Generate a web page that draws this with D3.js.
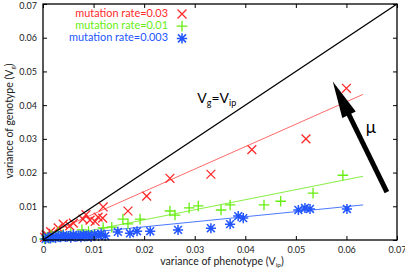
<!DOCTYPE html>
<html><head><meta charset="utf-8">
<script src="https://cdn.jsdelivr.net/npm/d3@7"></script>
<style>body{margin:0;background:#fff}svg{display:block}text{font-family:Lato,sans-serif}</style>
</head><body><svg id="c" width="405" height="273"></svg>
<script>
const xTicks = [0, 0.01, 0.02, 0.03, 0.04, 0.05, 0.06, 0.07];
const yTicks = [0, 0.01, 0.02, 0.03, 0.04, 0.05, 0.06, 0.07];
const seriesNames = ["mutation rate=0.03", "mutation rate=0.01", "mutation rate=0.003"];
const seriesColors = ["#ff2a2a", "#66ee11", "#2255ff"];
const lineColors = ["#ff6a6a", "#88ee44", "#4a7aff"];
const redPts = [[0.0003,0.0008],[0.0006,0.0015],[0.001,0.0012],[0.0015,0.0025],[0.002,0.002],[0.003,0.0036],[0.004,0.0047],[0.0053,0.0042],[0.006,0.005],[0.0079,0.0062],[0.0085,0.0075],[0.0093,0.0059],[0.0103,0.0055],[0.0109,0.0068],[0.0118,0.0065],[0.0119,0.0098],[0.0168,0.0086],[0.0205,0.013],[0.0251,0.0183],[0.0332,0.0195],[0.0413,0.0268],[0.052,0.030],[0.060,0.045]];
const greenPts = [[0.0003,0.0003],[0.0008,0.0009],[0.0012,0.0005],[0.0016,0.0015],[0.002,0.0008],[0.003,0.0024],[0.004,0.0016],[0.0055,0.002],[0.0077,0.003],[0.009,0.0025],[0.0119,0.0036],[0.0136,0.0038],[0.0158,0.0062],[0.0168,0.0048],[0.0192,0.0062],[0.0251,0.0086],[0.0261,0.0074],[0.0289,0.0095],[0.0307,0.0101],[0.0352,0.0089],[0.037,0.0104],[0.0437,0.0104],[0.047,0.0115],[0.0534,0.0139],[0.0593,0.0192]];
const bluePts = [[0.0005,0.0003],[0.001,0.0008],[0.0015,0.0005],[0.002,0.001],[0.0025,0.0006],[0.003,0.0012],[0.0035,0.0008],[0.004,0.0014],[0.0045,0.0009],[0.005,0.0012],[0.0055,0.0007],[0.006,0.0015],[0.0065,0.001],[0.007,0.0013],[0.0075,0.0008],[0.008,0.0016],[0.0085,0.0011],[0.009,0.0014],[0.0095,0.0009],[0.0102,0.0017],[0.011,0.0012],[0.0115,0.0019],[0.0123,0.0012],[0.0148,0.0024],[0.0172,0.002],[0.0186,0.0026],[0.0212,0.0026],[0.0267,0.003],[0.0332,0.0035],[0.037,0.0047],[0.0386,0.0071],[0.0396,0.0065],[0.0505,0.0089],[0.0518,0.0095],[0.0528,0.0092],[0.0601,0.0092]];
// fitted lines: [x0,y0,x1,y1]
const fitLines = [[0.0005,0.0014,0.0633,0.0432],[0,0,0.0633,0.0189],[0,0.0009,0.0633,0.0104]];
const diagLine = [0, 0, 0.07, 0.07];
const arrow = {tail:[0.068,0.0142], tip:[0.0573,0.047]};

const svg = d3.select("#c");
const L=43, R=397, T=4, B=240;
const x = d3.scaleLinear().domain([0,0.07]).range([L,R]);
const y = d3.scaleLinear().domain([0,0.07]).range([B,T]);
const allPts=[redPts,greenPts,bluePts];

fitLines.forEach((f,i)=>{
  svg.append("line").attr("x1",x(f[0])).attr("y1",y(f[1])).attr("x2",x(f[2])).attr("y2",y(f[3]))
    .attr("stroke",lineColors[i]).attr("stroke-width",1);
});

function marker(g, kind, color, s){
  const p = d3.path();
  if(kind===0||kind===2){ p.moveTo(-s,-s);p.lineTo(s,s);p.moveTo(-s,s);p.lineTo(s,-s); }
  if(kind===1||kind===2){ const t = kind===2? s*1.3 : s*1.2; p.moveTo(-t,0);p.lineTo(t,0);p.moveTo(0,-t);p.lineTo(0,t); }
  g.append("path").attr("d",p.toString()).attr("stroke",color).attr("stroke-width",kind===2?1.5:1.3).attr("fill","none");
}
[0,1,2].forEach(i=>{
  const g = svg.append("g");
  allPts[i].forEach(d=>{
    const m = g.append("g").attr("transform",`translate(${x(d[0])},${y(d[1])})`);
    marker(m,i,seriesColors[i],i===2?3.9:4.4);
  });
});

svg.append("line").attr("x1",x(diagLine[0])).attr("y1",y(diagLine[1])).attr("x2",x(diagLine[2])).attr("y2",y(diagLine[3]))
  .attr("stroke","#000").attr("stroke-width",1.3);

svg.append("rect").attr("x",L).attr("y",T).attr("width",R-L).attr("height",B-T).attr("fill","none").attr("stroke","#000").attr("stroke-width",1.3);

const fmt = d=>d===0?"0":d3.format(".2f")(d);
const xa = svg.append("g").attr("transform",`translate(0,${B})`).call(d3.axisBottom(x).tickValues(xTicks).tickSize(-4).tickPadding(7).tickFormat(fmt));
const xt = svg.append("g").attr("transform",`translate(0,${T})`).call(d3.axisTop(x).tickValues(xTicks).tickSize(-4).tickFormat(""));
const ya = svg.append("g").attr("transform",`translate(${L},0)`).call(d3.axisLeft(y).tickValues(yTicks).tickSize(-4).tickPadding(6).tickFormat(fmt));
const yr = svg.append("g").attr("transform",`translate(${R},0)`).call(d3.axisRight(y).tickValues(yTicks).tickSize(-4).tickFormat(""));
[xa,xt,ya,yr].forEach(a=>{a.select(".domain").remove(); a.selectAll("line").attr("stroke","#000").attr("stroke-width",1);
  a.selectAll("text").attr("font-size",9).attr("fill","#222").attr("font-family","Lato,sans-serif");});
ya.selectAll(".tick").filter(d=>d===0.07).select("text").attr("dy","0.55em");

const xl = svg.append("text").attr("x",222).attr("y",265).attr("text-anchor","middle").attr("font-size",10.5).attr("fill","#222");
xl.append("tspan").text("variance of phenotype (V");
xl.append("tspan").attr("font-size",6.5).attr("dy",2).text("ip");
xl.append("tspan").attr("dy",-2).text(")");
const yl = svg.append("text").attr("transform","translate(13,121) rotate(-90)").attr("text-anchor","middle").attr("font-size",10.5).attr("fill","#222");
yl.append("tspan").text("variance of genotype (V");
yl.append("tspan").attr("font-size",6.5).attr("dy",2).text("g");
yl.append("tspan").attr("dy",-2).text(")");

seriesNames.forEach((n,i)=>{
  const yy = 13 + i*12.2;
  svg.append("text").attr("x",168).attr("y",yy+3.7).attr("text-anchor","end").attr("font-size",10.9).attr("fill",seriesColors[i]).text(n);
  const m = svg.append("g").attr("transform",`translate(182,${yy+1})`);
  marker(m,i,seriesColors[i],i===2?4:4.5);
});

const vl = svg.append("text").attr("x",x(0.0305)).attr("y",y(0.0405)).attr("font-size",14).attr("fill","#000");
vl.append("tspan").text("V");
vl.append("tspan").attr("font-size",9).attr("dy",3).text("g");
vl.append("tspan").attr("dy",-3).text("=V");
vl.append("tspan").attr("font-size",9).attr("dy",3).text("ip");

const tx=x(arrow.tail[0]), ty=y(arrow.tail[1]), px=x(arrow.tip[0]), py=y(arrow.tip[1]);
const dx=px-tx, dy=py-ty, len=Math.hypot(dx,dy), ux=dx/len, uy=dy/len, nx=-uy, ny=ux;
const headL=37, headW=7.5;
const bx=px-ux*headL, by=py-uy*headL;
svg.append("line").attr("x1",tx).attr("y1",ty).attr("x2",bx+ux*2).attr("y2",by+uy*2).attr("stroke","#000").attr("stroke-width",5);
svg.append("path").attr("d",`M${px},${py}L${bx+nx*headW},${by+ny*headW}L${bx-nx*headW},${by-ny*headW}Z`).attr("fill","#000");
svg.append("text").attr("x",x(0.0638)).attr("y",y(0.0316)).attr("font-size",17).attr("fill","#000").text("μ");
</script></body></html>
